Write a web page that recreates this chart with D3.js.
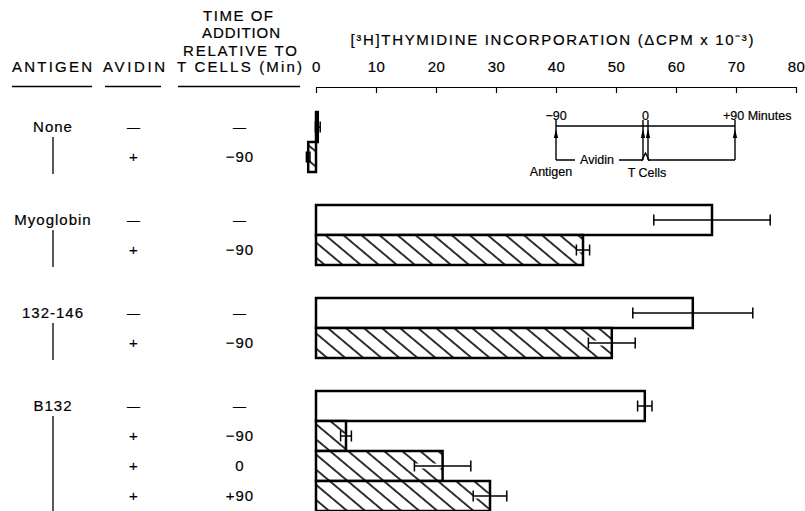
<!DOCTYPE html>
<html><head><meta charset="utf-8">
<script src="https://cdn.jsdelivr.net/npm/d3@7"></script>
<style>
body{margin:0;background:#fff}
svg{display:block}
text{font-family:"Liberation Sans",Arial,Helvetica,sans-serif;fill:#000;stroke:#000;stroke-width:0.2px}
</style>
</head><body>
<svg id="c" width="805" height="511"></svg>
<script>
// ---- data ----
const antigens = ["None", "Myoglobin", "132-146", "B132"];
const rowGroup = [0, 0, 1, 1, 2, 2, 3, 3, 3, 3];
const rowAvidin = ["—", "+", "—", "+", "—", "+", "—", "+", "+", "+"];
const rowTime = ["—", "−90", "—", "−90", "—", "−90", "—", "−90", "0", "+90"];
const values = [0.3, -1.3, 66, 44.5, 62.8, 49.3, 54.8, 5.0, 21.1, 29.0];
const errors = [0.4, 0.3, 9.7, 1.1, 10.0, 3.9, 1.2, 0.9, 4.7, 2.8];
const hatched = [false, true, false, true, false, true, false, true, true, true];
const xTicks = [0, 10, 20, 30, 40, 50, 60, 70, 80];
const insetTimes = [-90, 0, 90];
const insetTimeLabels = ["−90", "0", "+90 Minutes"];

// ---- layout ----
const svg = d3.select("#c");
const x = d3.scaleLinear().domain([0, 80]).range([316, 796]);
const yPos = d3.scaleLinear().domain([0, 1]).range([112, 142]);
const rowH = yPos(1) - yPos(0);
const rows = values.map((v, i) => ({
  i, v, e: errors[i], h: hatched[i], g: rowGroup[i],
  top: yPos(i + rowGroup[i] * 1.1)
}));

// hatch pattern
const defs = svg.append("defs");
defs.append("pattern").attr("id", "hatch")
  .attr("patternUnits", "userSpaceOnUse")
  .attr("width", 11.6).attr("height", 10)
  .attr("patternTransform", "rotate(-50)")
  .call(p => {
    p.append("rect").attr("width", 11.6).attr("height", 10).attr("fill", "#fff");
    p.append("line").attr("x1", 5.8).attr("x2", 5.8).attr("y1", 0).attr("y2", 10)
      .attr("stroke", "#000").attr("stroke-width", 1.6);
  });

// ---- header ----
const hdr = svg.append("g").attr("font-size", 15);
function htext(s, cx, base, len) {
  hdr.append("text").attr("x", cx).attr("y", base).attr("text-anchor", "middle")
    .attr("textLength", len).attr("lengthAdjust", "spacing").text(s);
}
htext("ANTIGEN", 52, 72, 80);
htext("AVIDIN", 134, 72, 62);
htext("TIME OF", 238, 21, 70);
htext("ADDITION", 241, 38, 78);
htext("RELATIVE TO", 240, 56, 114);
htext("T CELLS (Min)", 239.5, 72, 125);
[[12, 92], [105, 161], [178, 300]].forEach(([a, b]) =>
  svg.append("line").attr("x1", a).attr("x2", b).attr("y1", 86.5).attr("y2", 86.5)
    .attr("stroke", "#000").attr("stroke-width", 1.3));

svg.append("text").attr("x", 552).attr("y", 45).attr("text-anchor", "middle")
  .attr("font-size", 15).attr("textLength", 403).attr("lengthAdjust", "spacing")
  .text("[³H]THYMIDINE INCORPORATION (ΔCPM x 10⁻³)");

// axis
const ax = svg.append("g").attr("transform", "translate(0,87)")
  .call(d3.axisTop(x).tickValues(xTicks).tickSize(-6).tickSizeOuter(0).tickPadding(15));
ax.selectAll("text").attr("font-size", 15).attr("letter-spacing", 0.5)
  .attr("font-family", "Liberation Sans, Arial, sans-serif").attr("fill", "#000");
ax.selectAll("line").attr("stroke", "#000").attr("stroke-width", 1.2);
ax.select(".domain").attr("stroke", "#000").attr("stroke-width", 1.2);

// ---- table ----
const tbl = svg.append("g").attr("font-size", 15).attr("letter-spacing", 1);
antigens.forEach((a, g) => {
  const rs = rows.filter(r => r.g === g);
  const c0 = rs[0].top + rowH / 2;
  const last = rs[rs.length - 1].top + rowH;
  tbl.append("text").attr("x", 53).attr("y", c0 + 5).attr("text-anchor", "middle").text(a);
  svg.append("line").attr("x1", 53).attr("x2", 53).attr("y1", c0 + 10).attr("y2", Math.min(last + 2, 511))
    .attr("stroke", "#000").attr("stroke-width", 1.3);
});
rows.forEach(r => {
  const c = r.top + rowH / 2;
  tbl.append("text").attr("x", 134).attr("y", c + 5).attr("text-anchor", "middle")
    .attr("font-size", rowAvidin[r.i] === "—" ? 13 : 15).text(rowAvidin[r.i]);
  tbl.append("text").attr("x", 240).attr("y", c + 5).attr("text-anchor", "middle")
    .attr("font-size", rowTime[r.i] === "—" ? 13 : 15).text(rowTime[r.i]);
});

// ---- bars ----
const bars = svg.append("g");
bars.selectAll("rect").data(rows).join("rect")
  .attr("x", d => x(Math.min(0, d.v)))
  .attr("width", d => Math.abs(x(d.v) - x(0)))
  .attr("y", d => d.top)
  .attr("height", rowH)
  .attr("fill", d => d.h ? "url(#hatch)" : "#fff")
  .attr("stroke", "#000").attr("stroke-width", 2.5);

const eb = svg.append("g").attr("stroke", "#000").attr("stroke-width", 1.5);
rows.forEach(r => {
  const c = r.top + rowH / 2;
  const lo = x(r.v - r.e), hi = x(r.v + r.e);
  if (r.h) {
    eb.append("line").attr("x1", lo).attr("x2", x(r.v) - 1.5).attr("y1", c).attr("y2", c)
      .attr("stroke", "#fff").attr("stroke-width", 5);
  }
  eb.append("line").attr("x1", lo).attr("x2", hi).attr("y1", c).attr("y2", c);
  eb.append("line").attr("x1", lo).attr("x2", lo).attr("y1", c - 5.5).attr("y2", c + 5.5);
  eb.append("line").attr("x1", hi).attr("x2", hi).attr("y1", c - 5.5).attr("y2", c + 5.5);
});

// ---- inset timeline ----
const t = d3.scaleLinear().domain([-90, 90]).range([556, 735]);
const ins = svg.append("g");
const st = s => s.attr("stroke", "#000").attr("stroke-width", 1.4).attr("fill", "none");
ins.append("line").attr("x1", t(-90)).attr("x2", t(90)).attr("y1", 126).attr("y2", 126).call(st);
const arrowXs = [t(-90), t(0) - 2.5, t(0) + 2.5, t(90)];
arrowXs.forEach(ax0 => {
  ins.append("line").attr("x1", ax0).attr("x2", ax0).attr("y1", 120).attr("y2", 160).call(st);
  ins.append("path").attr("d", `M${ax0 - 2.2},138 L${ax0},129 L${ax0 + 2.2},138 Z`).attr("fill", "#000");
});
ins.append("line").attr("x1", t(-90)).attr("x2", t(0) - 2.5).attr("y1", 160).attr("y2", 160).call(st);
ins.append("line").attr("x1", t(0) + 2.5).attr("x2", t(90)).attr("y1", 160).attr("y2", 160).call(st);
ins.append("path").attr("d", `M${t(0) - 4},161 L${t(0)},153 L${t(0) + 4},161`).call(st);
ins.append("rect").attr("x", 575).attr("y", 153).attr("width", 44).attr("height", 13).attr("fill", "#fff");
const it = ins.append("g").attr("font-size", 12.5).style("stroke-width", "0.15px");
it.append("text").attr("x", 597).attr("y", 164).attr("text-anchor", "middle").text("Avidin");
it.append("text").attr("x", 551).attr("y", 176).attr("text-anchor", "middle").text("Antigen");
it.append("text").attr("x", 647).attr("y", 177).attr("text-anchor", "middle").text("T Cells");
insetTimes.forEach((v, k) => {
  it.append("text").attr("x", k === 2 ? t(v) - 12 : t(v)).attr("y", 120)
    .attr("text-anchor", k === 2 ? "start" : "middle").text(insetTimeLabels[k]);
});
</script>
</body></html>
